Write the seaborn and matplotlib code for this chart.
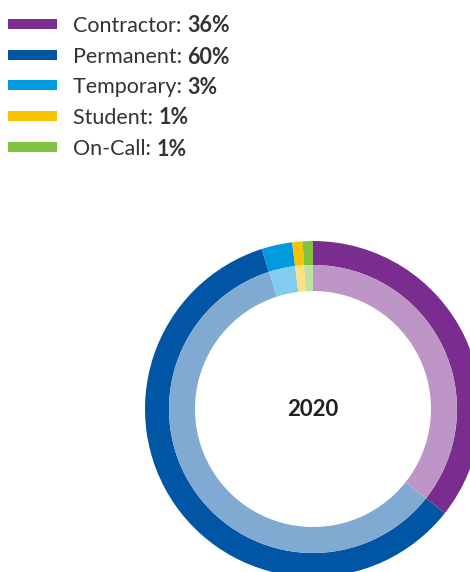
import matplotlib
matplotlib.use("Agg")
import matplotlib.pyplot as plt
from matplotlib.patches import Rectangle
import seaborn as sns

categories = ["Contractor", "Permanent", "Temporary", "Student", "On-Call"]
values = [36, 60, 3, 1, 1]
pct_labels = ["36%", "60%", "3%", "1%", "1%"]
center_label = "2020"
colors = ["#7A2C8F", "#0055A5", "#009ADE", "#F7C300", "#80C342"]

sns.set_theme(style="white")
plt.rcParams["font.family"] = ["Lato", "DejaVu Sans"]

W, H = 470, 572
fig = plt.figure(figsize=(W / 100, H / 100), dpi=100)
fig.patch.set_facecolor("white")

# donut axes (extends beyond the figure at right/bottom like the reference)
R_px = 168.0
lim = 1.2
side = 2 * lim * R_px
cx, cy = 313.0, 409.0
ax = fig.add_axes([(cx - side / 2) / W, (H - cy - side / 2) / H, side / W, side / H])
ax.set_xlim(-lim, lim)
ax.set_ylim(-lim, lim)
ax.set_aspect("equal")
ax.axis("off")

light = [sns.blend_palette([c, "#FFFFFF"], 3)[1] for c in colors]

ax.pie(values, radius=1.0, colors=colors, startangle=90, counterclock=False,
       wedgeprops=dict(width=24 / R_px, edgecolor="none", linewidth=0))
ax.pie(values, radius=144 / R_px, colors=light, startangle=90, counterclock=False,
       wedgeprops=dict(width=26 / R_px, edgecolor="none", linewidth=0))
ax.set_xlim(-lim, lim)
ax.set_ylim(-lim, lim)
ax.text(0, 0, center_label, ha="center", va="center", fontsize=16,
        fontweight="bold", color="#231F20")

# legend
row_y = [24, 55, 85, 116, 147]
renderer = fig.canvas.get_renderer()
for cat, pct, col, y in zip(categories, pct_labels, colors, row_y):
    fig.patches.append(Rectangle((8 / W, (H - y - 5) / H), 49 / W, 10 / H,
                                 transform=fig.transFigure, facecolor=col,
                                 edgecolor="none"))
    t = fig.text(73 / W, (H - y) / H, cat + ": ", ha="left", va="center_baseline",
                 fontsize=15.5, color="#333333")
    bb = t.get_window_extent(renderer=renderer)
    fig.text(bb.x1 / W, (H - y) / H, pct, ha="left", va="center_baseline",
             fontsize=15.5, fontweight="bold", color="#333333")

fig.savefig("out.png", dpi=100, facecolor="white")
